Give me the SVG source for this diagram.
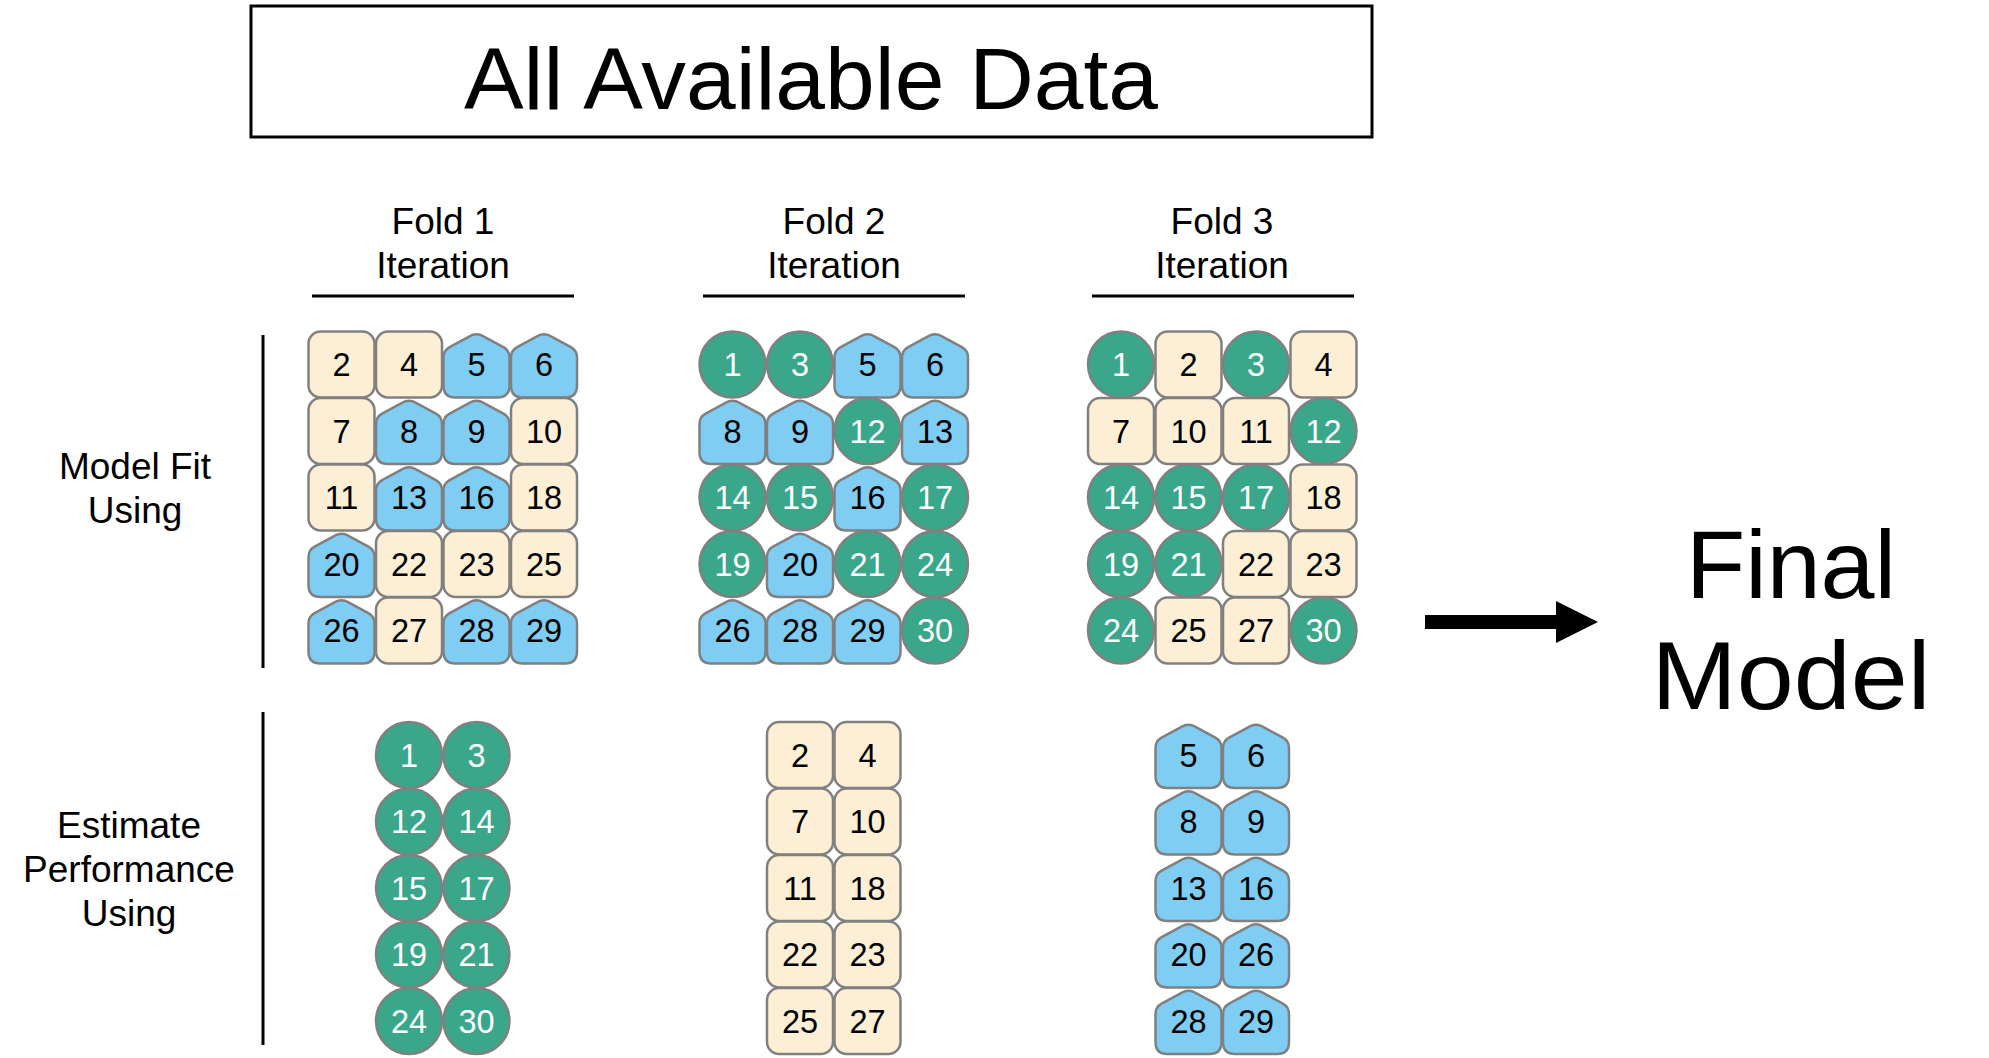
<svg xmlns="http://www.w3.org/2000/svg" xmlns:xlink="http://www.w3.org/1999/xlink" width="1989" height="1058" viewBox="0 0 1989 1058">
<style>
.g{fill:#3aa68a;stroke:#808080;stroke-width:2.5}
.b{fill:#7fcdf3;stroke:#808080;stroke-width:2.5}
.t{fill:#fdefd5;stroke:#808080;stroke-width:2.5}
.n{font-family:"Liberation Sans",Arial,sans-serif;font-size:32.5px;text-anchor:middle;fill:#000}
.w{fill:#fff}
.lab{font-family:"Liberation Sans",Arial,sans-serif;font-size:37px;text-anchor:middle;fill:#000}
.big{font-family:"Liberation Sans",Arial,sans-serif;text-anchor:middle;fill:#000}
.rule{stroke:#000;stroke-width:3;fill:none}
</style>
<defs>
<circle id="G" class="g" r="33"/>
<rect id="T" class="t" x="-33" y="-33" width="66" height="66" rx="12"/>
<path id="B" class="b" d="M -33,-7 L -33,21 Q -33,33 -21,33 L 21,33 Q 33,33 33,21 L 33,-7 Q 33,-14 26.9,-17.35 L 7,-28.2 Q 0,-32.5 -7,-28.2 L -26.9,-17.35 Q -33,-14 -33,-7 Z"/>
</defs>
<rect width="1989" height="1058" fill="#fff"/>

<g id="title">
<rect x="251" y="6" width="1121" height="131" fill="none" stroke="#000" stroke-width="3"/>
<text class="big" x="811" y="109" font-size="88" textLength="694" lengthAdjust="spacingAndGlyphs">All Available Data</text>
</g>

<g id="headers">
<text class="lab" x="443" y="234">Fold 1</text>
<text class="lab" x="443" y="278">Iteration</text>
<line class="rule" x1="312" y1="296" x2="574" y2="296"/>
<text class="lab" x="834" y="234">Fold 2</text>
<text class="lab" x="834" y="278">Iteration</text>
<line class="rule" x1="703" y1="296" x2="965" y2="296"/>
<text class="lab" x="1222" y="234">Fold 3</text>
<text class="lab" x="1222" y="278">Iteration</text>
<line class="rule" x1="1092" y1="296" x2="1354" y2="296"/>
</g>

<g id="side-labels">
<text class="lab" x="135" y="479">Model Fit</text>
<text class="lab" x="135" y="523">Using</text>
<line class="rule" x1="263" y1="335" x2="263" y2="668"/>
<text class="lab" x="129" y="838">Estimate</text>
<text class="lab" x="129" y="882">Performance</text>
<text class="lab" x="129" y="926">Using</text>
<line class="rule" x1="263" y1="712" x2="263" y2="1045"/>
</g>

<g id="fold1-fit">
<g id="f1a-2" transform="translate(341.5,364.5)"><use href="#T"/><text class="n" y="11.5">2</text></g>
<g id="f1a-4" transform="translate(409,364.5)"><use href="#T"/><text class="n" y="11.5">4</text></g>
<g id="f1a-5" transform="translate(476.5,364.5)"><use href="#B"/><text class="n" y="11.5">5</text></g>
<g id="f1a-6" transform="translate(544,364.5)"><use href="#B"/><text class="n" y="11.5">6</text></g>
<g id="f1a-7" transform="translate(341.5,431)"><use href="#T"/><text class="n" y="11.5">7</text></g>
<g id="f1a-8" transform="translate(409,431)"><use href="#B"/><text class="n" y="11.5">8</text></g>
<g id="f1a-9" transform="translate(476.5,431)"><use href="#B"/><text class="n" y="11.5">9</text></g>
<g id="f1a-10" transform="translate(544,431)"><use href="#T"/><text class="n" y="11.5">10</text></g>
<g id="f1a-11" transform="translate(341.5,497.5)"><use href="#T"/><text class="n" y="11.5">11</text></g>
<g id="f1a-13" transform="translate(409,497.5)"><use href="#B"/><text class="n" y="11.5">13</text></g>
<g id="f1a-16" transform="translate(476.5,497.5)"><use href="#B"/><text class="n" y="11.5">16</text></g>
<g id="f1a-18" transform="translate(544,497.5)"><use href="#T"/><text class="n" y="11.5">18</text></g>
<g id="f1a-20" transform="translate(341.5,564)"><use href="#B"/><text class="n" y="11.5">20</text></g>
<g id="f1a-22" transform="translate(409,564)"><use href="#T"/><text class="n" y="11.5">22</text></g>
<g id="f1a-23" transform="translate(476.5,564)"><use href="#T"/><text class="n" y="11.5">23</text></g>
<g id="f1a-25" transform="translate(544,564)"><use href="#T"/><text class="n" y="11.5">25</text></g>
<g id="f1a-26" transform="translate(341.5,630.5)"><use href="#B"/><text class="n" y="11.5">26</text></g>
<g id="f1a-27" transform="translate(409,630.5)"><use href="#T"/><text class="n" y="11.5">27</text></g>
<g id="f1a-28" transform="translate(476.5,630.5)"><use href="#B"/><text class="n" y="11.5">28</text></g>
<g id="f1a-29" transform="translate(544,630.5)"><use href="#B"/><text class="n" y="11.5">29</text></g>
</g>

<g id="fold2-fit">
<g id="f2a-1" transform="translate(732.5,364.5)"><use href="#G"/><text class="n w" y="11.5">1</text></g>
<g id="f2a-3" transform="translate(800,364.5)"><use href="#G"/><text class="n w" y="11.5">3</text></g>
<g id="f2a-5" transform="translate(867.5,364.5)"><use href="#B"/><text class="n" y="11.5">5</text></g>
<g id="f2a-6" transform="translate(935,364.5)"><use href="#B"/><text class="n" y="11.5">6</text></g>
<g id="f2a-8" transform="translate(732.5,431)"><use href="#B"/><text class="n" y="11.5">8</text></g>
<g id="f2a-9" transform="translate(800,431)"><use href="#B"/><text class="n" y="11.5">9</text></g>
<g id="f2a-12" transform="translate(867.5,431)"><use href="#G"/><text class="n w" y="11.5">12</text></g>
<g id="f2a-13" transform="translate(935,431)"><use href="#B"/><text class="n" y="11.5">13</text></g>
<g id="f2a-14" transform="translate(732.5,497.5)"><use href="#G"/><text class="n w" y="11.5">14</text></g>
<g id="f2a-15" transform="translate(800,497.5)"><use href="#G"/><text class="n w" y="11.5">15</text></g>
<g id="f2a-16" transform="translate(867.5,497.5)"><use href="#B"/><text class="n" y="11.5">16</text></g>
<g id="f2a-17" transform="translate(935,497.5)"><use href="#G"/><text class="n w" y="11.5">17</text></g>
<g id="f2a-19" transform="translate(732.5,564)"><use href="#G"/><text class="n w" y="11.5">19</text></g>
<g id="f2a-20" transform="translate(800,564)"><use href="#B"/><text class="n" y="11.5">20</text></g>
<g id="f2a-21" transform="translate(867.5,564)"><use href="#G"/><text class="n w" y="11.5">21</text></g>
<g id="f2a-24" transform="translate(935,564)"><use href="#G"/><text class="n w" y="11.5">24</text></g>
<g id="f2a-26" transform="translate(732.5,630.5)"><use href="#B"/><text class="n" y="11.5">26</text></g>
<g id="f2a-28" transform="translate(800,630.5)"><use href="#B"/><text class="n" y="11.5">28</text></g>
<g id="f2a-29" transform="translate(867.5,630.5)"><use href="#B"/><text class="n" y="11.5">29</text></g>
<g id="f2a-30" transform="translate(935,630.5)"><use href="#G"/><text class="n w" y="11.5">30</text></g>
</g>

<g id="fold3-fit">
<g id="f3a-1" transform="translate(1121,364.5)"><use href="#G"/><text class="n w" y="11.5">1</text></g>
<g id="f3a-2" transform="translate(1188.5,364.5)"><use href="#T"/><text class="n" y="11.5">2</text></g>
<g id="f3a-3" transform="translate(1256,364.5)"><use href="#G"/><text class="n w" y="11.5">3</text></g>
<g id="f3a-4" transform="translate(1323.5,364.5)"><use href="#T"/><text class="n" y="11.5">4</text></g>
<g id="f3a-7" transform="translate(1121,431)"><use href="#T"/><text class="n" y="11.5">7</text></g>
<g id="f3a-10" transform="translate(1188.5,431)"><use href="#T"/><text class="n" y="11.5">10</text></g>
<g id="f3a-11" transform="translate(1256,431)"><use href="#T"/><text class="n" y="11.5">11</text></g>
<g id="f3a-12" transform="translate(1323.5,431)"><use href="#G"/><text class="n w" y="11.5">12</text></g>
<g id="f3a-14" transform="translate(1121,497.5)"><use href="#G"/><text class="n w" y="11.5">14</text></g>
<g id="f3a-15" transform="translate(1188.5,497.5)"><use href="#G"/><text class="n w" y="11.5">15</text></g>
<g id="f3a-17" transform="translate(1256,497.5)"><use href="#G"/><text class="n w" y="11.5">17</text></g>
<g id="f3a-18" transform="translate(1323.5,497.5)"><use href="#T"/><text class="n" y="11.5">18</text></g>
<g id="f3a-19" transform="translate(1121,564)"><use href="#G"/><text class="n w" y="11.5">19</text></g>
<g id="f3a-21" transform="translate(1188.5,564)"><use href="#G"/><text class="n w" y="11.5">21</text></g>
<g id="f3a-22" transform="translate(1256,564)"><use href="#T"/><text class="n" y="11.5">22</text></g>
<g id="f3a-23" transform="translate(1323.5,564)"><use href="#T"/><text class="n" y="11.5">23</text></g>
<g id="f3a-24" transform="translate(1121,630.5)"><use href="#G"/><text class="n w" y="11.5">24</text></g>
<g id="f3a-25" transform="translate(1188.5,630.5)"><use href="#T"/><text class="n" y="11.5">25</text></g>
<g id="f3a-27" transform="translate(1256,630.5)"><use href="#T"/><text class="n" y="11.5">27</text></g>
<g id="f3a-30" transform="translate(1323.5,630.5)"><use href="#G"/><text class="n w" y="11.5">30</text></g>
</g>

<g id="fold1-estimate">
<g id="f1b-1" transform="translate(409,755)"><use href="#G"/><text class="n w" y="11.5">1</text></g>
<g id="f1b-3" transform="translate(476.5,755)"><use href="#G"/><text class="n w" y="11.5">3</text></g>
<g id="f1b-12" transform="translate(409,821.5)"><use href="#G"/><text class="n w" y="11.5">12</text></g>
<g id="f1b-14" transform="translate(476.5,821.5)"><use href="#G"/><text class="n w" y="11.5">14</text></g>
<g id="f1b-15" transform="translate(409,888)"><use href="#G"/><text class="n w" y="11.5">15</text></g>
<g id="f1b-17" transform="translate(476.5,888)"><use href="#G"/><text class="n w" y="11.5">17</text></g>
<g id="f1b-19" transform="translate(409,954.5)"><use href="#G"/><text class="n w" y="11.5">19</text></g>
<g id="f1b-21" transform="translate(476.5,954.5)"><use href="#G"/><text class="n w" y="11.5">21</text></g>
<g id="f1b-24" transform="translate(409,1021)"><use href="#G"/><text class="n w" y="11.5">24</text></g>
<g id="f1b-30" transform="translate(476.5,1021)"><use href="#G"/><text class="n w" y="11.5">30</text></g>
</g>

<g id="fold2-estimate">
<g id="f2b-2" transform="translate(800,755)"><use href="#T"/><text class="n" y="11.5">2</text></g>
<g id="f2b-4" transform="translate(867.5,755)"><use href="#T"/><text class="n" y="11.5">4</text></g>
<g id="f2b-7" transform="translate(800,821.5)"><use href="#T"/><text class="n" y="11.5">7</text></g>
<g id="f2b-10" transform="translate(867.5,821.5)"><use href="#T"/><text class="n" y="11.5">10</text></g>
<g id="f2b-11" transform="translate(800,888)"><use href="#T"/><text class="n" y="11.5">11</text></g>
<g id="f2b-18" transform="translate(867.5,888)"><use href="#T"/><text class="n" y="11.5">18</text></g>
<g id="f2b-22" transform="translate(800,954.5)"><use href="#T"/><text class="n" y="11.5">22</text></g>
<g id="f2b-23" transform="translate(867.5,954.5)"><use href="#T"/><text class="n" y="11.5">23</text></g>
<g id="f2b-25" transform="translate(800,1021)"><use href="#T"/><text class="n" y="11.5">25</text></g>
<g id="f2b-27" transform="translate(867.5,1021)"><use href="#T"/><text class="n" y="11.5">27</text></g>
</g>

<g id="fold3-estimate">
<g id="f3b-5" transform="translate(1188.5,755)"><use href="#B"/><text class="n" y="11.5">5</text></g>
<g id="f3b-6" transform="translate(1256,755)"><use href="#B"/><text class="n" y="11.5">6</text></g>
<g id="f3b-8" transform="translate(1188.5,821.5)"><use href="#B"/><text class="n" y="11.5">8</text></g>
<g id="f3b-9" transform="translate(1256,821.5)"><use href="#B"/><text class="n" y="11.5">9</text></g>
<g id="f3b-13" transform="translate(1188.5,888)"><use href="#B"/><text class="n" y="11.5">13</text></g>
<g id="f3b-16" transform="translate(1256,888)"><use href="#B"/><text class="n" y="11.5">16</text></g>
<g id="f3b-20" transform="translate(1188.5,954.5)"><use href="#B"/><text class="n" y="11.5">20</text></g>
<g id="f3b-26" transform="translate(1256,954.5)"><use href="#B"/><text class="n" y="11.5">26</text></g>
<g id="f3b-28" transform="translate(1188.5,1021)"><use href="#B"/><text class="n" y="11.5">28</text></g>
<g id="f3b-29" transform="translate(1256,1021)"><use href="#B"/><text class="n" y="11.5">29</text></g>
</g>

<g id="final-model">
<text class="big" x="1791" y="598" font-size="97">Final</text>
<text class="big" x="1791" y="709" font-size="97" textLength="279" lengthAdjust="spacingAndGlyphs">Model</text>
</g>

<g id="connectors">
<path d="M 1425,615 L 1556,615 L 1556,601 L 1598,622 L 1556,643 L 1556,629 L 1425,629 Z" fill="#000"/>
</g>
</svg>
